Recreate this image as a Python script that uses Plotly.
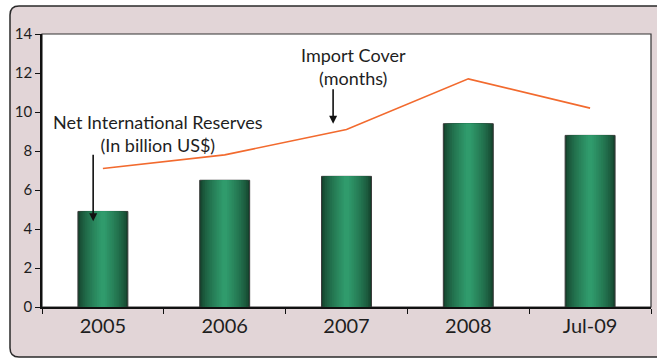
import plotly.graph_objects as go

# Data
periods = ["2005", "2006", "2007", "2008", "Jul-09"]
reserves_bn_usd = [4.9, 6.5, 6.7, 9.4, 8.8]
import_cover_months = [7.1, 7.8, 9.1, 11.7, 10.2]
y_ticks = [0, 2, 4, 6, 8, 10, 12, 14]

W, H = 657, 358
L, R, T, B = 42, 6, 34, 51
FONT = "Lato, 'Open Sans', sans-serif"
TEXT = "#1e1e1e"

fig = go.Figure()

# Cylinder-shaded bars: stacked overlays, dark at the edges, lighter towards the middle
edge = (20, 66, 44)
mid = (48, 155, 108)
n_layers = 14
bar_w = 0.41
for i in range(n_layers):
    t = i / (n_layers - 1)
    frac = t ** 0.7
    c = tuple(round(edge[k] + (mid[k] - edge[k]) * frac) for k in range(3))
    w = bar_w * (1 - 0.9 * t)
    fig.add_trace(go.Bar(
        x=periods, y=reserves_bn_usd, width=w,
        marker=dict(color="rgb(%d,%d,%d)" % c,
                    line=dict(color="#3a3a3a" if i == 0 else "rgba(0,0,0,0)",
                              width=1 if i == 0 else 0)),
        showlegend=False, hoverinfo="skip" if i else None,
    ))

fig.add_trace(go.Scatter(
    x=periods, y=import_cover_months, mode="lines",
    line=dict(color="#f26a2e", width=1.6), showlegend=False,
))

pw, ph = W - L - R, H - T - B
def px(x):
    return (x - L) / pw
def py(y):
    return (H - B - y) / ph

# Panel background with rounded left corners, and white plotting area on top
r = 9
x0, x1, y0, y1 = px(10), px(W + 20), py(357), py(6)
rx, ry = r / pw, r / ph
panel = (f"M {x0+rx},{y1} L {x1},{y1} L {x1},{y0} L {x0+rx},{y0} "
         f"Q {x0},{y0} {x0},{y0+ry} L {x0},{y1-ry} Q {x0},{y1} {x0+rx},{y1} Z")
fig.add_shape(type="path", path=panel, xref="paper", yref="paper",
              fillcolor="#e2d5d7", line=dict(color="#2a2a2a", width=1.5), layer="below")
fig.add_shape(type="rect", x0=0, x1=1, y0=0, y1=1, xref="paper", yref="paper",
              fillcolor="white", line=dict(color="#333333", width=1.2), layer="below")

# Labels with pointers
label_font = dict(size=18, color=TEXT, family=FONT)
for text, cx, cy in [("Net International Reserves<br>(In billion US$)", 158, 133),
                     ("Import Cover<br>(months)", 353, 66)]:
    fig.add_annotation(text=text, xref="paper", yref="paper", x=px(cx), y=py(cy),
                       showarrow=False, font=label_font, align="center",
                       xanchor="center", yanchor="middle")
fig.add_annotation(text="", x=-0.08, y=4.4, xref="x", yref="y",
                   showarrow=True, arrowhead=2, arrowsize=1, arrowwidth=1.6,
                   arrowcolor="#111", ax=0, ay=-68)
fig.add_annotation(text="", x=1.89, y=9.4, xref="x", yref="y",
                   showarrow=True, arrowhead=2, arrowsize=1, arrowwidth=1.6,
                   arrowcolor="#111", ax=0, ay=-36)

fig.update_layout(
    width=W, height=H,
    margin=dict(l=L, r=R, t=T, b=B),
    barmode="overlay",
    paper_bgcolor="white",
    plot_bgcolor="rgba(0,0,0,0)",
    font=dict(family=FONT, color=TEXT),
    xaxis=dict(type="category", range=[-0.5, 4.5], showgrid=False,
               showline=True, linecolor="#111", linewidth=1.5,
               ticks="outside", tickson="boundaries", ticklen=5, tickcolor="#111",
               tickfont=dict(size=20, color=TEXT), zeroline=False),
    yaxis=dict(range=[0, 14], tickvals=y_ticks, showgrid=False,
               showline=True, linecolor="#111", linewidth=1.5,
               ticks="outside", ticklen=5, tickcolor="#111",
               tickfont=dict(size=15, color=TEXT), zeroline=False),
)

fig.write_html("out.html")
